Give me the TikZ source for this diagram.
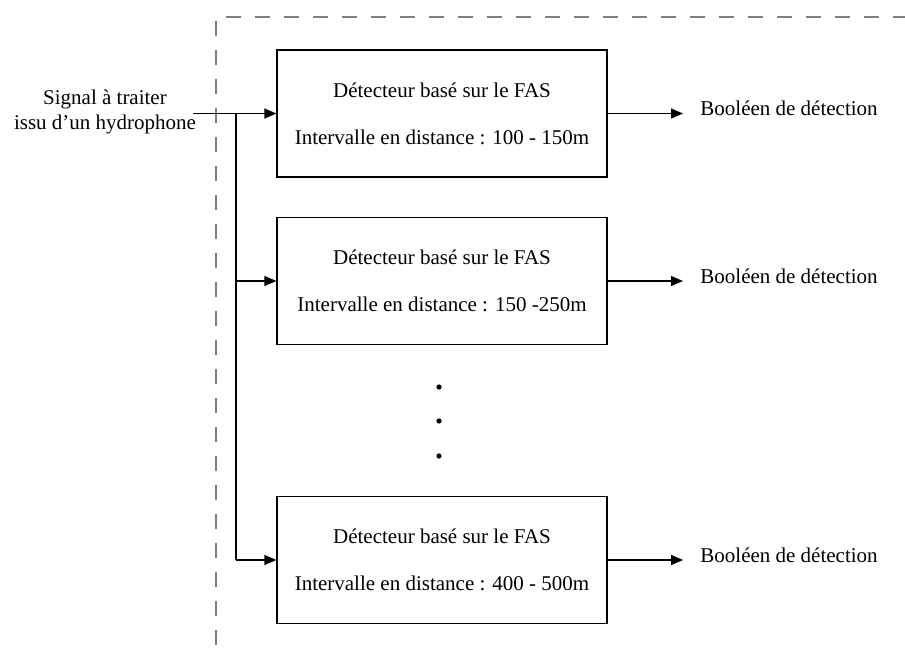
\documentclass[tikz,border=0pt]{standalone}
\usepackage{fontspec}
\setmainfont{Liberation Serif}
\usetikzlibrary{arrows.meta}
\begin{document}
\begin{tikzpicture}[x=0.5pt,y=-0.5pt,
  every node/.style={font=\fontsize{10.5}{12.6}\selectfont},
  detbox/.style={draw,line width=0.6pt,minimum width=165pt,minimum height=63.5pt,align=center,inner sep=0pt},
  conn/.style={line width=0.6pt},
  arr/.style={conn,-{Triangle[length=6pt,width=5pt]}},
  frame/.style={draw=black!50,line width=1pt,dash pattern=on 7.5pt off 7pt},
  dotnode/.style={circle,fill,inner sep=0pt,minimum size=2.6pt},
  outlabel/.style={anchor=west,inner xsep=8.5pt,inner ysep=0pt}]
\useasboundingbox (0,0) rectangle (905,649);
% frame
\draw[frame] (216,645) -- (216,17) -- (905,17);
% boxes
\node[detbox] (b1) at (442,113.5) {Détecteur basé sur le FAS\\[10.9pt]Intervalle en distance : 100 - 150m};
\node[detbox] (b2) at (442,281) {Détecteur basé sur le FAS\\[10.9pt]Intervalle en distance : 150 -250m};
\node[detbox] (b3) at (442,560) {Détecteur basé sur le FAS\\[10.9pt]Intervalle en distance : 400 - 500m};
% input
\node[align=center,inner sep=0pt] (in) at (105,112) {Signal à traiter\\issu d’un hydrophone};
\coordinate (s) at (193,113.5);
\coordinate (j1) at (236,113.5);
\coordinate (j2) at (236,281);
\coordinate (j3) at (236,560);
\draw[arr] (s) -- (b1.west);
\draw[conn] (j1) -- (j3);
\draw[arr] (j2) -- (b2.west);
\draw[arr] (j3) -- (b3.west);
% outputs
\node[outlabel] (o1) at (683,108.5) {Booléen de détection};
\node[outlabel] (o2) at (683,276) {Booléen de détection};
\node[outlabel] (o3) at (683,555) {Booléen de détection};
\coordinate (t1) at (683,113.5);
\coordinate (t2) at (683,281);
\coordinate (t3) at (683,560);
\draw[arr] (b1.east) -- (t1);
\draw[arr] (b2.east) -- (t2);
\draw[arr] (b3.east) -- (t3);
% dots
\node[dotnode] (d1) at (439,387) {};
\node[dotnode] (d2) at (439,421) {};
\node[dotnode] (d3) at (439,456) {};
\end{tikzpicture}
\end{document}
